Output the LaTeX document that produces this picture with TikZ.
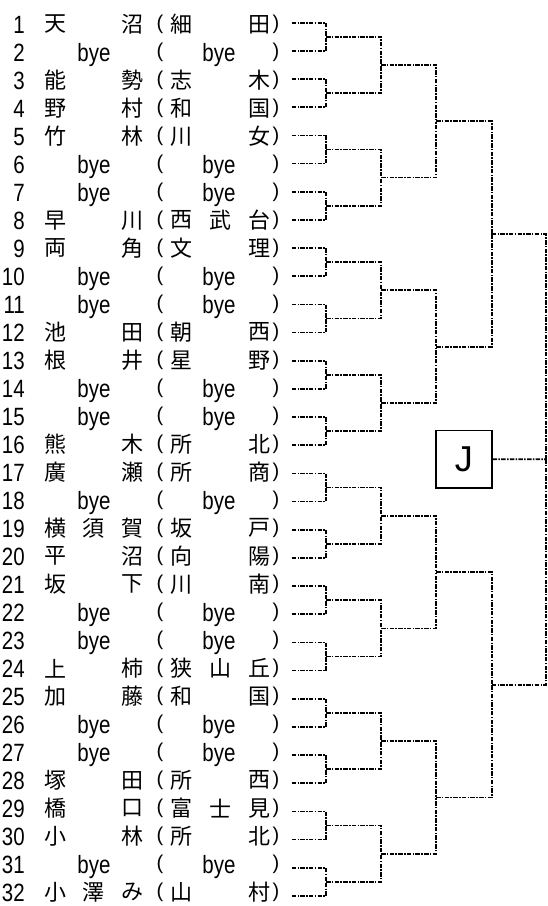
\documentclass[tikz,border=0pt]{standalone}
\usepackage{fontspec}
\setmainfont{Liberation Sans}
\newfontfamily\cjk{Noto Sans CJK JP}
\newfontfamily\latn[FakeStretch=0.82]{Liberation Sans}
\usetikzlibrary{calc}
\tikzset{
  bracket/.style={line width=1.7pt, dash pattern=on 4.5pt off 1.3pt on 1.5pt off 1.3pt},
  cj/.style={inner sep=0pt, anchor=center, font=\cjk\fontsize{22}{22}\selectfont},
  lt/.style={inner sep=0pt, anchor=base, font=\latn\fontsize{25}{25}\selectfont},
  paren/.style={inner sep=0pt, anchor=center, font=\fontsize{20}{20}\selectfont},
  jbox/.style={draw, line width=1.8pt, minimum width=55.7pt, minimum height=57.7pt, inner sep=0pt, font=\fontsize{36}{36}\selectfont}
}
% line rows and text rows
\newcommand\rowy[1]{22.7+(#1-1)*28.17}
\newcommand\texty[1]{24.3+(#1-1)*28.0}
\newcommand\nmTwo[3]{%
  \node[cj] (na#1) at (55,{\texty{#1}}) {#2};
  \node[cj] (nc#1) at (132,{\texty{#1}}) {#3};}
\newcommand\nmThree[4]{%
  \node[cj] (na#1) at (55,{\texty{#1}}) {#2};
  \node[cj] (nb#1) at (93.5,{\texty{#1}}) {#3};
  \node[cj] (nc#1) at (132,{\texty{#1}}) {#4};}
\newcommand\scTwo[3]{%
  \node[cj] (sa#1) at (181,{\texty{#1}}) {#2};
  \node[cj] (sc#1) at (259,{\texty{#1}}) {#3};}
\newcommand\scThree[4]{%
  \node[cj] (sa#1) at (181,{\texty{#1}}) {#2};
  \node[cj] (sb#1) at (220,{\texty{#1}}) {#3};
  \node[cj] (sc#1) at (259,{\texty{#1}}) {#4};}
\newcommand\byeRow[1]{%
  \node[lt] (na#1) at (94,{\texty{#1}+9}) {bye};
  \node[lt] (sa#1) at (219,{\texty{#1}+9}) {bye};}
\begin{document}
\begin{tikzpicture}[x=1pt,y=-1pt]
\useasboundingbox (0,0) rectangle (547,906);
% numbers and parentheses
\foreach \i in {1,...,32}{
  \node[lt, anchor=base east] (num\i) at (25,{\texty{\i}+9}) {\i};
  \node[paren] (lp\i) at (160,{\texty{\i}}) {(};
  \node[paren] (rp\i) at (276,{\texty{\i}}) {)};
  \coordinate (c0-\i) at (291.7,{\rowy{\i}});
}
% entries
\nmTwo{1}{天}{沼}\scTwo{1}{細}{田}
\byeRow{2}
\nmTwo{3}{能}{勢}\scTwo{3}{志}{木}
\nmTwo{4}{野}{村}\scTwo{4}{和}{国}
\nmTwo{5}{竹}{林}\scTwo{5}{川}{女}
\byeRow{6}
\byeRow{7}
\nmTwo{8}{早}{川}\scThree{8}{西}{武}{台}
\nmTwo{9}{両}{角}\scTwo{9}{文}{理}
\byeRow{10}
\byeRow{11}
\nmTwo{12}{池}{田}\scTwo{12}{朝}{西}
\nmTwo{13}{根}{井}\scTwo{13}{星}{野}
\byeRow{14}
\byeRow{15}
\nmTwo{16}{熊}{木}\scTwo{16}{所}{北}
\nmTwo{17}{廣}{瀬}\scTwo{17}{所}{商}
\byeRow{18}
\nmThree{19}{横}{須}{賀}\scTwo{19}{坂}{戸}
\nmTwo{20}{平}{沼}\scTwo{20}{向}{陽}
\nmTwo{21}{坂}{下}\scTwo{21}{川}{南}
\byeRow{22}
\byeRow{23}
\nmTwo{24}{上}{柿}\scThree{24}{狭}{山}{丘}
\nmTwo{25}{加}{藤}\scTwo{25}{和}{国}
\byeRow{26}
\byeRow{27}
\nmTwo{28}{塚}{田}\scTwo{28}{所}{西}
\nmTwo{29}{橋}{口}\scThree{29}{富}{士}{見}
\nmTwo{30}{小}{林}\scTwo{30}{所}{北}
\byeRow{31}
\nmThree{32}{小}{澤}{み}\scTwo{32}{山}{村}
% bracket
\foreach \r/\xr/\n/\rp in {1/326/16/0,2/381/8/1,3/436/4/2,4/491.7/2/3,5/545.8/1/4}{
  \foreach \k in {1,...,\n}{
    \pgfmathtruncatemacro\a{2*\k-1}
    \pgfmathtruncatemacro\b{2*\k}
    \path let \p1=(c\rp-\a), \p2=(c\rp-\b) in coordinate (c\r-\k) at ({\xr pt},{0.5*\y1+0.5*\y2});
    \draw[bracket] (c\rp-\a) -| (c\r-\k);
    \draw[bracket] (c\rp-\b) -| (c\r-\k);
  }
}
\node[jbox] (J) at (463.85,459.3) {J};
\draw[bracket] (J.east) -- (c5-1);
\end{tikzpicture}
\end{document}
